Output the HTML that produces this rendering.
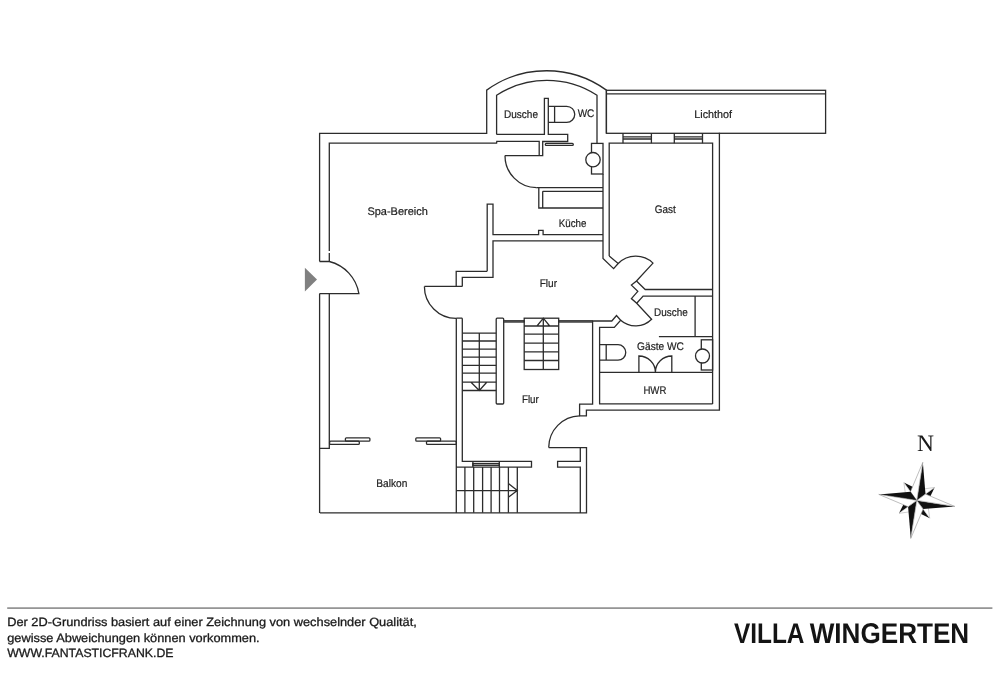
<!DOCTYPE html>
<html><head><meta charset="utf-8">
<style>
html,body{margin:0;padding:0;background:#fff;}
body{width:1000px;height:676px;overflow:hidden;position:relative;}
svg{position:absolute;left:0;top:0;}
text{text-rendering:geometricPrecision;}
</style></head>
<body><div style="will-change:transform;position:absolute;left:0;top:0;width:1000px;height:676px">
<svg width="1000" height="676" viewBox="0 0 1000 676">
<g fill="none" stroke="#2c2c2c" stroke-width="1.3" stroke-linejoin="miter" stroke-linecap="butt">
<!-- outer spa wall + round room -->
<path d="M319.6,513 V293.6 M319.6,261.5 V133.3 H486.7 V90.1 A102.2,102.2 0 0 1 606.4,90.1 V133.3"/>
<!-- inner round room -->
<path d="M496.6,134.4 V95.3 A92.2,92.2 0 0 1 597,95.3 V143.4"/>
<!-- dusche partition + wc wall band -->
<path d="M496.6,134.4 H544.4 V98.4 H548.3 V134.4 H567.7 V141.5 H542.7 V155.6 H505"/>
<!-- spa inner top -->
<path d="M329.3,261.5 V252.9 M329.3,251.1 V143.2 H496.6 L496.8,141.4 H539.2 V155.6"/>
<!-- door arc spa->wc -->
<path d="M505,155.6 A32,32 0 0 0 536.6,187.7"/>
<!-- shower rail -->
<rect x="545.3" y="143.4" width="28" height="2" rx="1"/>
<!-- sink top -->
<rect x="591.5" y="143.4" width="11.5" height="30.6"/>
<circle cx="593" cy="159.7" r="7.2" fill="#fff"/>
<!-- WC top -->
<path d="M548.3,106.3 H566.7 A8,8 0 0 1 566.7,122.4 H548.3 M554.6,106.3 V122.4"/>
<!-- Lichthof -->
<rect x="606.4" y="90.3" width="219.2" height="43"/>
<path d="M606.4,93.8 H825.6"/>
<!-- windows -->
<path d="M623,133 V143.2 M651.4,133 V143.2 M623,136.9 H651.4 M623,139 H651.4 M674.3,133 V143.2 M702.5,133 V143.2 M674.3,136.9 H702.5 M674.3,139 H702.5"/>
<!-- Gast -->
<path d="M609.2,256 V143.2 H712.6 V403.9"/>
<path d="M719.4,132.8 V410.2 H586.4 V415.8 H579.6 V404.2 H592.6 V321"/>
<!-- kitchen wall right -->
<path d="M603,174 V258.5 L613.6,268.6 L618.2,263.5 L609.2,256"/>
<!-- kitchen counter -->
<path d="M536.4,187.7 H603 M538.8,187.7 V208 H603 M542.7,191.3 H603 M542.7,191.3 V208"/>
<!-- spa/kitchen divider -->
<path d="M487.2,271.3 V204.1 H493 V234.7 H538.6 V230.4 H543.1 V234.7 H603"/>
<path d="M603,240.8 H493 V277.3 H462.3 V286.4 M487.2,271.3 H456.2 V286.4"/>
<path d="M424.4,286.4 H462.3"/>
<path d="M424.4,286.4 A32,32 0 0 0 456.2,318.4"/>
<!-- entry door -->
<path d="M319.6,261.5 H329.3 A39.9,39.9 0 0 1 358.9,293.6 H319.6"/>
<path d="M329.3,293.6 V448.4 H319.9"/>
<!-- double door diag -->
<path d="M618.2,263.5 A24.8,24.8 0 0 1 653,263.1 L636.5,281 L631.4,285.1 L637.8,291.4 L631.4,298.6 L636.7,303.2 L651.6,319.3 A22.5,22.5 0 0 1 620.7,320.3"/>
<path d="M636.5,281 L645.2,289.5 H712.6 M636.7,303.2 L643.1,296.1 H712.6"/>
<path d="M592.6,321 H611.8 L616.5,315.5 L620.7,320.3 L614.3,327.4 H599.6 V403.9 H712.6"/>
<!-- lower dusche -->
<path d="M695.1,296.1 V336.7 M658.9,336.7 H712.6"/>
<!-- gaeste wc -->
<path d="M599.6,344.7 H618 A7.75,7.75 0 0 1 618,360.2 H599.6 M606.2,344.7 V360.2"/>
<path d="M599.6,372.4 H712.6"/>
<path d="M638.9,372.2 V356 A16.5,16.2 0 0 1 655.4,372.2 A16.4,16.2 0 0 1 671.8,356 V372.2"/>
<rect x="701.3" y="339.8" width="11.3" height="30.2"/>
<circle cx="702.5" cy="356" r="7" fill="#fff"/>
<!-- corridor left wall -->
<path d="M456.3,318.2 V513 M462.3,318.2 V461.3 H531.5 V467.1 H456.3 M456.3,318.2 H462.3"/>
<!-- pillar -->
<rect x="496.2" y="318.2" width="7.5" height="85.8" rx="1"/>
<!-- rails -->
<rect x="503.7" y="320.6" width="20.5" height="1.6" stroke-width="0.8" fill="#555"/><rect x="558.7" y="320.6" width="33.9" height="1.6" stroke-width="0.8" fill="#555"/>
<!-- stair left -->
<path d="M462.3,333.2 H496.2 M462.3,341 H496.2 M462.3,349.2 H496.2 M462.3,357.2 H496.2 M462.3,365.3 H496.2 M462.3,373.2 H496.2 M462.3,382.2 H496.2 M462.3,390.5 H496.2 M479.3,333.2 V390.5 M471,382.2 L479.3,390.5 L486.7,382.2"/>
<!-- stair right -->
<rect x="524.2" y="318.2" width="34.5" height="51.3"/>
<path d="M524.2,326 H558.7 M524.2,334.2 H558.7 M524.2,343.2 H558.7 M524.2,351.8 H558.7 M524.2,360.5 H558.7 M543.3,318.2 V369.5 M537,326 L543.3,318.2 L549.7,326"/>
<!-- lower stair -->
<path d="M464.9,467.1 V512.8 M473.7,467.1 V512.8 M482.6,467.1 V512.8 M491.1,467.1 V512.8 M499.5,467.1 V512.8 M508.4,467.1 V512.8 M517.3,467.1 V512.8 M456.3,490.6 H517.3 M508.4,483.5 L517.3,490.6 L508.4,497.3"/>
<!-- window bottom flur -->
<path d="M472.9,461.3 V467.1 M499.3,461.3 V467.1"/><rect x="472.9" y="463.5" width="26.4" height="1.8"/>
<!-- balkon -->
<path d="M319.9,512.8 H586.5 V447.6 H548.7 M580.3,447.6 V461.3 H557.6 V467.1 H580.3 V512.8"/>
<path d="M548.7,447.6 A31.6,32 0 0 1 579.6,415.8"/>
<!-- sliding doors -->
<rect x="345.4" y="437.8" width="24.5" height="3.4" rx="1"/>
<rect x="329.6" y="441.2" width="29.7" height="3.2" rx="1"/>
<rect x="415.8" y="437.8" width="24.8" height="3.4" rx="1"/>
<rect x="426.5" y="441.2" width="29.8" height="3.2" rx="1"/>
</g>
<polygon points="304.9,267.8 317,279.6 304.9,291.4" fill="#808080"/>
<!-- labels -->
<g font-family="Liberation Sans, sans-serif" font-size="11" fill="#222" stroke="#222" stroke-width="0.2">
<text x="504" y="117.8" textLength="34" lengthAdjust="spacingAndGlyphs">Dusche</text>
<text x="577.7" y="117.3" textLength="16.6" lengthAdjust="spacingAndGlyphs">WC</text>
<text x="694.3" y="117.9" textLength="37.7" lengthAdjust="spacingAndGlyphs">Lichthof</text>
<text x="367.4" y="214.7" textLength="60.4" lengthAdjust="spacingAndGlyphs">Spa-Bereich</text>
<text x="654.7" y="212.8" textLength="21" lengthAdjust="spacingAndGlyphs">Gast</text>
<text x="558.7" y="226.5" textLength="27.7" lengthAdjust="spacingAndGlyphs">Küche</text>
<text x="539.7" y="286.5" textLength="17.3" lengthAdjust="spacingAndGlyphs">Flur</text>
<text x="654" y="315.9" textLength="33.7" lengthAdjust="spacingAndGlyphs">Dusche</text>
<text x="637.1" y="350.4" textLength="46.8" lengthAdjust="spacingAndGlyphs">Gäste WC</text>
<text x="643.4" y="394" textLength="23" lengthAdjust="spacingAndGlyphs">HWR</text>
<text x="522" y="402.5" textLength="16.8" lengthAdjust="spacingAndGlyphs">Flur</text>
<text x="376.3" y="486.6" textLength="31" lengthAdjust="spacingAndGlyphs">Balkon</text>
</g>
<text x="917" y="450.9" font-family="Liberation Serif, serif" font-size="23.5" fill="#1a1a1a">N</text>
<!-- compass -->
<g transform="translate(916.8,500.4) rotate(9)">
 <defs>
  <g id="sm"><polygon points="0,0 0,-22 4.8,-13" fill="#111"/><polygon points="0,0 0,-22 -4.8,-13" fill="#fff" stroke="#aaa" stroke-width="0.5"/></g>
  <g id="mn"><polygon points="0,0 0,-38.5 7.6,-7.6" fill="#111"/><polygon points="0,0 0,-38.5 -7.6,-7.6" fill="#fff" stroke="#999" stroke-width="0.6"/></g>
 </defs>
 <use href="#sm" transform="rotate(45)"/><use href="#sm" transform="rotate(135)"/><use href="#sm" transform="rotate(225)"/><use href="#sm" transform="rotate(315)"/>
 <use href="#mn"/><use href="#mn" transform="rotate(90)"/><use href="#mn" transform="rotate(180)"/><use href="#mn" transform="rotate(270)"/>
</g>
<!-- footer -->
<rect x="7.2" y="607.3" width="985.2" height="1.6" fill="#8a8a8a"/>
<g font-family="Liberation Sans, sans-serif" font-size="12" fill="#1a1a1a" stroke="#1a1a1a" stroke-width="0.3">
<text x="7.2" y="626.2" textLength="409.6" lengthAdjust="spacingAndGlyphs">Der 2D-Grundriss basiert auf einer Zeichnung von wechselnder Qualität,</text>
<text x="7.2" y="642" textLength="252.4" lengthAdjust="spacingAndGlyphs">gewisse Abweichungen können vorkommen.</text>
<text x="7.2" y="657.4" textLength="166.3" lengthAdjust="spacingAndGlyphs">WWW.FANTASTICFRANK.DE</text>
</g>
<g font-family="Liberation Sans, sans-serif" font-weight="bold" font-size="28.5" fill="#141414">
<text x="734" y="642.6" textLength="70.5" lengthAdjust="spacingAndGlyphs">VILLA</text>
<text x="809.7" y="642.6" textLength="159.5" lengthAdjust="spacingAndGlyphs">WINGERTEN</text>
</g>
</svg></div>
</body></html>
